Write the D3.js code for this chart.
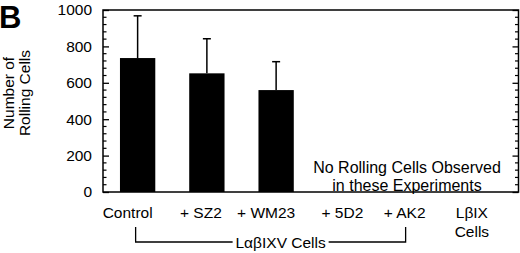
<!DOCTYPE html>
<html>
<head>
<meta charset="utf-8">
<script src="https://cdn.jsdelivr.net/npm/d3@7"></script>
<style>
  body { margin: 0; background: #fff; }
  svg text { font-family: "Liberation Sans", Arial, sans-serif; fill: #000; }
</style>
</head>
<body>
<script>
// data
const categories = ['Control', '+ SZ2', '+ WM23', '+ 5D2', '+ AK2', 'LβIX'];
const means = [736, 652, 560, null, null, null];
const upperErr = [968, 842, 716, null, null, null];
const yTicks = [0, 200, 400, 600, 800, 1000];

const outerW = 520, outerH = 253;
const margin = {left: 103, right: 1.5, top: 10, bottom: 61};
const w = outerW - margin.left - margin.right,
    h = outerH - margin.top - margin.bottom;
const fs = '15.5px';

const svg = d3.select('body').append('svg')
    .attr('width', outerW)
    .attr('height', outerH);

const g = svg.append('g')
    .attr('transform', 'translate(' + margin.left + ',' + margin.top + ')');

const x = d3.scaleBand().domain(categories).range([0, w]).paddingInner(0.49).paddingOuter(0.245);
const y = d3.scaleLinear().domain([0, 1000]).range([h, 0]);

const minorTicks = d3.range(0, 1001, 40).filter(v => v % 200 !== 0);

// bars
const data = categories.map((c, i) => ({c: c, m: means[i], e: upperErr[i]})).filter(d => d.m != null);

g.selectAll('.err')
    .data(data)
    .enter().append('line')
    .attr('x1', d => x(d.c) + x.bandwidth() / 2)
    .attr('x2', d => x(d.c) + x.bandwidth() / 2)
    .attr('y1', d => y(d.m))
    .attr('y2', d => y(d.e))
    .attr('stroke', '#000').attr('stroke-width', 1.5);

g.selectAll('.cap')
    .data(data)
    .enter().append('line')
    .attr('x1', d => x(d.c) + x.bandwidth() / 2 - 4)
    .attr('x2', d => x(d.c) + x.bandwidth() / 2 + 4)
    .attr('y1', d => y(d.e))
    .attr('y2', d => y(d.e))
    .attr('stroke', '#000').attr('stroke-width', 1.5);

g.selectAll('.bar')
    .data(data)
    .enter().append('rect')
    .attr('x', d => x(d.c))
    .attr('width', x.bandwidth())
    .attr('y', d => y(d.m))
    .attr('height', d => h - y(d.m))
    .attr('fill', '#000');

// frame
g.append('rect')
    .attr('width', w).attr('height', h)
    .attr('fill', 'none').attr('stroke', '#000').attr('stroke-width', 1.5);

// left axis
const yAxis = g.append('g')
    .call(d3.axisLeft(y).tickValues(yTicks).tickFormat(d3.format('d'))
        .tickSize(-6).tickSizeOuter(0).tickPadding(11));
yAxis.select('.domain').remove();
yAxis.selectAll('text').style('font-size', fs).style('font-family', '"Liberation Sans", Arial, sans-serif');
yAxis.selectAll('line').attr('stroke-width', 1.3);

g.selectAll('.lminor')
    .data(minorTicks)
    .enter().append('line')
    .attr('x1', 0).attr('x2', 3.5)
    .attr('y1', d => y(d)).attr('y2', d => y(d))
    .attr('stroke', '#000').attr('stroke-width', 1.2);

// right axis ticks
const rAxis = g.append('g')
    .attr('transform', 'translate(' + w + ',0)')
    .call(d3.axisRight(y).tickValues(yTicks).tickSize(-6).tickSizeOuter(0).tickFormat(''));
rAxis.select('.domain').remove();
rAxis.selectAll('line').attr('stroke-width', 1.3);

g.selectAll('.rminor')
    .data(minorTicks)
    .enter().append('line')
    .attr('x1', w).attr('x2', w - 3.5)
    .attr('y1', d => y(d)).attr('y2', d => y(d))
    .attr('stroke', '#000').attr('stroke-width', 1.2);

// category labels
const labelShift = [-10, -6, -10, -3, -10, -12];
g.selectAll('.cat')
    .data(categories)
    .enter().append('text')
    .attr('x', (d, i) => x(d) + x.bandwidth() / 2 + labelShift[i])
    .attr('y', h + 26)
    .attr('text-anchor', 'middle')
    .style('font-size', fs)
    .text(d => d);

g.append('text')
    .attr('x', x('LβIX') + x.bandwidth() / 2 - 12)
    .attr('y', h + 45)
    .attr('text-anchor', 'middle')
    .style('font-size', fs)
    .text('Cells');

// bracket under LαβIXV cell conditions
const bx1 = x('Control') + x.bandwidth() / 2 - 2,
    bx2 = x('+ AK2') + x.bandwidth() / 2 - 9,
    byTop = h + 35, byBot = h + 50;
g.append('path')
    .attr('d', 'M' + bx1 + ',' + byTop + 'V' + byBot + 'H' + (bx1 + 97))
    .attr('fill', 'none').attr('stroke', '#000').attr('stroke-width', 1.3);
g.append('path')
    .attr('d', 'M' + (bx2 - 77) + ',' + byBot + 'H' + bx2 + 'V' + byTop)
    .attr('fill', 'none').attr('stroke', '#000').attr('stroke-width', 1.3);
g.append('text')
    .attr('x', (bx1 + 97 + bx2 - 77) / 2)
    .attr('y', byBot + 6)
    .attr('text-anchor', 'middle')
    .style('font-size', fs)
    .text('LαβIXV Cells');

// note in plot
const note = g.append('text')
    .attr('text-anchor', 'middle')
    .style('font-size', '16px');
note.append('tspan').attr('x', 304).attr('y', 163).text('No Rolling Cells Observed');
note.append('tspan').attr('x', 304).attr('y', 180.5).text('in these Experiments');

// y title
const yt = svg.append('text')
    .attr('transform', 'translate(0,93) rotate(-90)')
    .attr('text-anchor', 'middle')
    .style('font-size', fs);
yt.append('tspan').attr('x', 0).attr('y', 14).text('Number of');
yt.append('tspan').attr('x', 0).attr('y', 30).text('Rolling Cells');

// panel letter
svg.append('text')
    .attr('x', -1).attr('y', 28)
    .style('font-size', '31px').style('font-weight', 'bold')
    .text('B');
</script>
</body>
</html>
